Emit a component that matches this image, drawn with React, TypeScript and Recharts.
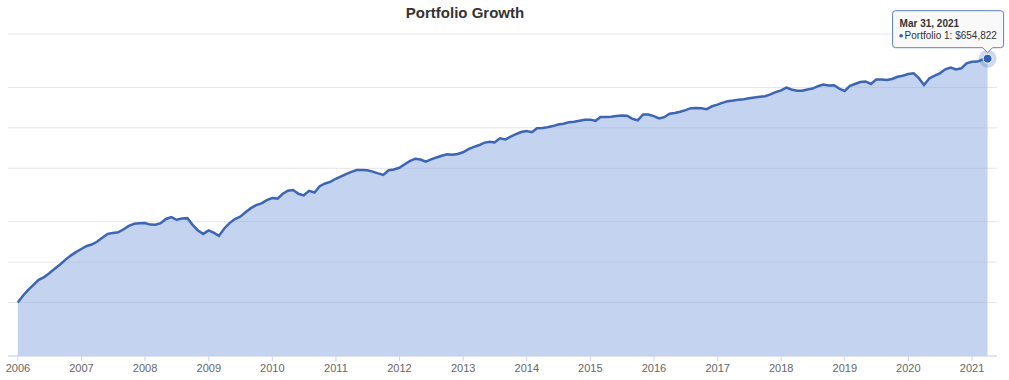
import { AreaChart, Area, XAxis, YAxis, CartesianGrid, ReferenceDot } from 'recharts';

const SERIES_NAME = 'Portfolio 1';

// month-end balances, Dec 2005 .. Mar 2021
const BALANCES = [
  10000,
  11290, 12390, 13560, 14760, 15470, 16520, 17830, 19210, 20800, 22370, 23760, 25070, // 2006
  26370, 27060, 28350, 30390, 32460, 33030, 33370, 35150, 37270, 38590, 38920, 39060, // 2007
  38060, 37990, 38990, 41940, 43340, 41360, 42230, 42530, 37930, 34420, 32460, 34480, // 2008
  33030, 31350, 35640, 39060, 41860, 43560, 47090, 50470, 53150, 54730, 57860, 60000, // 2009
  59480, 64330, 67970, 68910, 64550, 62890, 67970, 66000, 73600, 77130, 79160, 83520, // 2010
  87060, 90600, 94120, 97100, 97100, 96610, 94450, 91710, 89350, 96610, 97950, 100900, // 2011
  107200, 112900, 117900, 116300, 111900, 116500, 120200, 124000, 127200, 126100, 127900, 131500, // 2012
  139000, 143800, 148400, 154700, 157700, 155500, 167200, 163800, 171900, 179500, 186200, 189100, // 2013
  185900, 198900, 199900, 202300, 206200, 211600, 214900, 219800, 222100, 225600, 229500, 230300, // 2014
  225600, 240500, 240500, 242200, 245200, 247300, 246000, 233500, 227600, 251700, 251700, 244700, // 2015
  234800, 240100, 254700, 258200, 263700, 271100, 280200, 281200, 279700, 275400, 290000, 297700, // 2016
  308200, 316200, 319500, 323400, 326800, 332000, 337200, 341300, 344300, 355200, 369000, 380700, // 2017
  398800, 386000, 377400, 377900, 386600, 392600, 408600, 420800, 413500, 415000, 392600, 376700, // 2018
  411400, 424400, 438600, 443200, 424400, 458800, 458000, 454000, 462700, 480000, 489300, 503000, // 2019
  509100, 471000, 417200, 467000, 490000, 509100, 545600, 561800, 544700, 555100, 605300, 621200, // 2020
  623300, 643100, 654822, // 2021
];

const YEAR_TICKS = [2006, 2007, 2008, 2009, 2010, 2011, 2012, 2013, 2014, 2015, 2016, 2017, 2018, 2019, 2020, 2021];
const VALUE_TICKS = [4000, 10000, 20000, 40000, 100000, 200000, 400000, 1000000];
const Y_DOMAIN: [number, number] = [4000, 1000000];

const MONTHS = ['Jan', 'Feb', 'Mar', 'Apr', 'May', 'Jun', 'Jul', 'Aug', 'Sep', 'Oct', 'Nov', 'Dec'];

const data = BALANCES.map((value, i) => ({ time: Date.UTC(2005, 12 + i, 0), value }));
const last = data[data.length - 1];

const LINE = '#3c66b4';
const FILL = '#87a7e1';
const TEXT = '#333333';

function formatDate(t: number) {
  const d = new Date(t);
  return `${MONTHS[d.getUTCMonth()]} ${d.getUTCDate()}, ${d.getUTCFullYear()}`;
}

// grid rows at the log-axis ticks
function gridRows(props: any): number[] {
  const s = props?.yAxis?.scale;
  if (typeof s === 'function') return VALUE_TICKS.map(v => s(v));
  if (s && typeof s.map === 'function') return VALUE_TICKS.map(v => s.map(v));
  const { top, height } = props.offset;
  const lo = Math.log10(Y_DOMAIN[0]);
  const hi = Math.log10(Y_DOMAIN[1]);
  return VALUE_TICKS.map(v => top + (height * (hi - Math.log10(v))) / (hi - lo));
}

function HoverMarker({ cx, cy }: { cx?: number; cy?: number }) {
  if (cx == null || cy == null) return null;
  const left = cx - 95;
  const right = cx + 16;
  const top = cy - 48;
  const bottom = cy - 11;
  const r = 3;
  const box = `M ${left + r} ${top} H ${right - r} Q ${right} ${top} ${right} ${top + r} V ${bottom - r} Q ${right} ${bottom} ${right - r} ${bottom} H ${cx + 5} L ${cx} ${bottom + 5} L ${cx - 5} ${bottom} H ${left + r} Q ${left} ${bottom} ${left} ${bottom - r} V ${top + r} Q ${left} ${top} ${left + r} ${top} Z`;
  return (
    <g>
      <circle cx={cx} cy={cy} r={9} fill={LINE} fillOpacity={0.25} />
      <circle cx={cx} cy={cy} r={4.5} fill="#2f5fb8" stroke="#fff" strokeWidth={1} />
      <path d={box} fill="rgba(248,248,248,0.92)" stroke="#5a80c4" strokeWidth={1} />
      <text x={left + 7} y={top + 16} fontSize={10} fontWeight="bold" fill={TEXT}>
        {formatDate(last.time)}
      </text>
      <circle cx={left + 8.5} cy={top + 25} r={1.8} fill="#2f5fb8" />
      <text x={left + 12} y={top + 28.5} fontSize={10} fill={TEXT}>
        {`${SERIES_NAME}: $${last.value.toLocaleString('en-US')}`}
      </text>
    </g>
  );
}

export default function App() {
  return (
    <div style={{ position: 'absolute', left: 0, top: 0, width: 1009, height: 380, background: '#fff', fontFamily: '"Liberation Sans", Arial, sans-serif' }}>
      <div style={{ position: 'absolute', left: 0, top: 4, width: 930, textAlign: 'center', fontSize: 15, fontWeight: 'bold', color: TEXT }}>
        Portfolio Growth
      </div>
      <AreaChart
        width={1009}
        height={380}
        data={data}
        margin={{ top: 34, right: 12, left: 8, bottom: 0 }}
        style={{ fontFamily: '"Liberation Sans", Arial, sans-serif' }}
      >
        <CartesianGrid vertical={false} stroke="#e6e6e6" horizontalCoordinatesGenerator={gridRows} />
        <XAxis
          dataKey="time"
          type="number"
          scale="time"
          domain={[Date.UTC(2005, 10, 5), Date.UTC(2021, 4, 24)]}
          ticks={YEAR_TICKS.map(y => Date.UTC(y, 0, 1))}
          interval={0}
          tickFormatter={(v) => String(new Date(v).getUTCFullYear())}
          tick={{ fontSize: 11, fill: '#666' }}
          tickLine={{ stroke: '#ccd6eb' }}
          axisLine={{ stroke: '#ccd6eb' }}
          tickSize={5}
          tickMargin={3}
          height={24}
          allowDataOverflow
        />
        <YAxis
          scale="log"
          domain={Y_DOMAIN}
          ticks={VALUE_TICKS}
          allowDataOverflow
          width={0}
          tick={false}
          tickLine={false}
          axisLine={false}
        />
        <Area
          type="linear"
          dataKey="value"
          baseValue={4000}
          stroke={LINE}
          strokeWidth={2.5}
          fill={FILL}
          fillOpacity={0.5}
          dot={false}
          activeDot={false}
          isAnimationActive={false}
        />
        <ReferenceDot x={last.time} y={last.value} r={4} shape={(p: any) => <HoverMarker cx={p.cx} cy={p.cy} />} />
      </AreaChart>
    </div>
  );
}
